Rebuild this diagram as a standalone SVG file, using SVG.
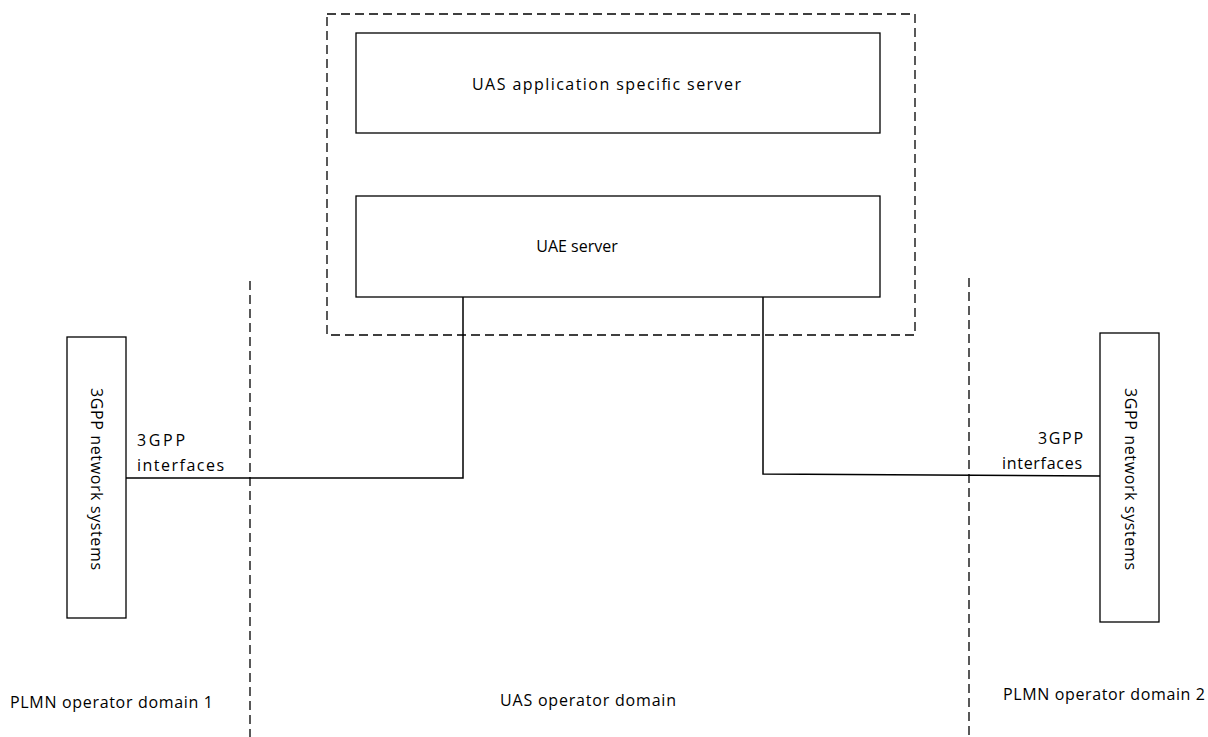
<svg xmlns="http://www.w3.org/2000/svg" width="1208" height="737" viewBox="0 0 1208 737">
<style>
.box{fill:#fff;stroke:#000;stroke-width:1.3}
.dash{fill:none;stroke:#000;stroke-width:1.3;stroke-dasharray:9,5}
.line{fill:none;stroke:#000;stroke-width:1.5}
text{font-family:"Open Sans","Liberation Sans",sans-serif;font-size:16px;fill:#000}
</style>
<rect width="1208" height="737" fill="#fff"/>
<g id="uas-domain-boundary"><rect class="dash" x="327" y="14" width="588" height="321"/></g>
<g id="divider-left"><line class="dash" x1="250" y1="281" x2="250" y2="737"/></g>
<g id="divider-right"><line class="dash" x1="969" y1="278" x2="969" y2="737"/></g>
<g id="connectors">
<polyline class="line" points="463,297 463,478 126,478"/>
<polyline class="line" points="763,297 763,474 1100,476"/>
</g>
<g id="app-server"><rect class="box" x="356" y="33" width="524" height="100"/>
<text x="472" y="90" textLength="269" lengthAdjust="spacing">UAS application specific server</text></g>
<g id="uae-server"><rect class="box" x="356" y="196" width="524" height="101"/>
<text x="577" y="252" text-anchor="middle">UAE server</text></g>
<g id="net-left"><rect class="box" x="67" y="337" width="59" height="281"/>
<text transform="translate(91,388) rotate(90)" textLength="182" lengthAdjust="spacing">3GPP network systems</text></g>
<g id="net-right"><rect class="box" x="1100" y="333" width="59" height="289"/>
<text transform="translate(1125,388) rotate(90)" textLength="182" lengthAdjust="spacing">3GPP network systems</text></g>
<g id="labels">
<text x="137" y="446" textLength="48" lengthAdjust="spacing">3GPP</text>
<text x="137" y="471" textLength="87" lengthAdjust="spacing">interfaces</text>
<text x="1038" y="444" textLength="45" lengthAdjust="spacing">3GPP</text>
<text x="1002" y="469" textLength="80" lengthAdjust="spacing">interfaces</text>
<text x="10" y="708" textLength="203" lengthAdjust="spacing">PLMN operator domain 1</text>
<text x="500" y="706" textLength="176" lengthAdjust="spacing">UAS operator domain</text>
<text x="1003" y="700" textLength="202" lengthAdjust="spacing">PLMN operator domain 2</text>
</g>
</svg>
